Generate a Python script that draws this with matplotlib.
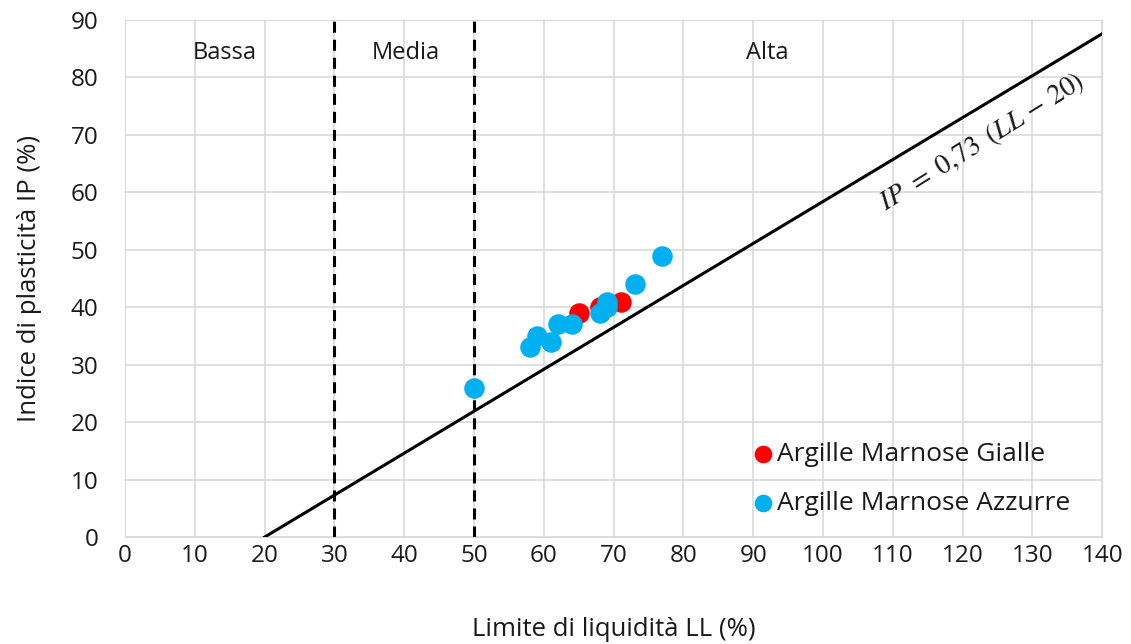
import matplotlib

matplotlib.use("Agg")
import matplotlib.pyplot as plt
import numpy as np

# liquid limit (LL) and plasticity index (IP)
gialle_ll = [65, 68, 71]
gialle_ip = [39, 40, 41]
azzurre_ll = [50, 58, 59, 61, 62, 64, 68, 69, 69, 73, 77]
azzurre_ip = [26, 33, 35, 34, 37, 37, 39, 40, 41, 44, 49]

line_ll = [20, 140]
zone_limits = [30, 50]
zone_names = ["Bassa", "Media", "Alta"]
zone_label_x = [14.3, 40.2, 92]

plt.rcParams["font.family"] = ["Open Sans", "DejaVu Sans"]
plt.rcParams["mathtext.fontset"] = "stix"

fig = plt.figure(figsize=(11.31, 6.44), dpi=100)
ax = fig.add_axes([0.1105, 0.166, 0.864, 0.803])

txt_c = "#1a1a1a"
grid_c = "#d9d9d9"
ax.set_xlim(0, 140)
ax.set_ylim(0, 90)
ax.set_xticks(np.arange(0, 141, 10))
ax.set_yticks(np.arange(0, 91, 10))
ax.grid(True, color=grid_c, lw=1.2)
ax.set_axisbelow(True)
for s in ax.spines.values():
    s.set_color(grid_c)
ax.tick_params(length=0, labelsize=17.5, colors=txt_c)
ax.tick_params(axis="x", pad=5)
ax.tick_params(axis="y", pad=19)

# A-line
ip_line = [0.73 * (v - 20) for v in line_ll]
ax.plot(line_ll, ip_line, color="black", lw=2.2, zorder=2)

for xl in zone_limits:
    ax.plot([xl, xl], [0, 90], color="black", lw=2.2, ls=(0, (3.6, 2.3)), zorder=2)

for name, xp in zip(zone_names, zone_label_x):
    ax.text(xp, 84.3, name, ha="center", va="center", fontsize=17, color=txt_c)

ax.text(122.8, 68.8, r"$IP\ =\ 0{,}73\ \,(LL\,-\,20)$", rotation=32, ha="center",
        va="center", fontsize=20, color=txt_c, rotation_mode="anchor")

ax.scatter(gialle_ll, gialle_ip, s=190, color="#ff0000", label="Argille Marnose Gialle", zorder=3)
ax.scatter(azzurre_ll, azzurre_ip, s=190, color="#00b0f0", label="Argille Marnose Azzurre", zorder=4)

leg = ax.legend(loc="lower right", bbox_to_anchor=(0.984, 0.01), frameon=False,
                fontsize=19, handlelength=1.0, handletextpad=0.05, markerscale=0.85,
                labelspacing=0.93, borderaxespad=0.2)
for t in leg.get_texts():
    t.set_color(txt_c)

ax.set_xlabel("Limite di liquidità LL (%)", fontsize=18.5, color=txt_c)
ax.set_ylabel("Indice di plasticità IP (%)", fontsize=18.5, color=txt_c)
ax.xaxis.set_label_coords(0.5, -0.155)
ax.yaxis.set_label_coords(-0.085, 0.5)

fig.savefig("out.png", dpi=100)
plt.close(fig)
